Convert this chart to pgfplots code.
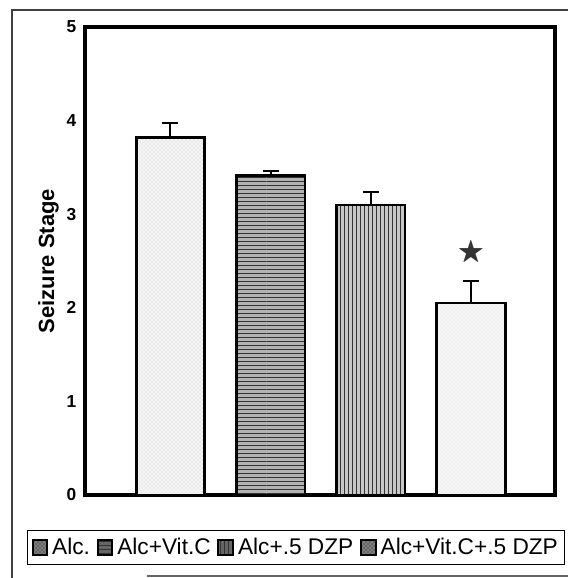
\documentclass[border=0pt]{standalone}
\usepackage{pgfplots}
\pgfplotsset{compat=1.18}
\usepackage{amssymb}
\usepackage{fontspec}
\setmainfont{Liberation Sans}
\usetikzlibrary{patterns,plotmarks}
\begin{document}
\begin{tikzpicture}
\useasboundingbox (0,0) rectangle (426pt,433.5pt);
% outer frame of the figure
\draw[black!75, line width=0.8pt] (9pt,0pt) -- (9pt,426pt) -- (426pt,426pt);
\draw[black!60, line width=0.8pt] (110pt,1.5pt) -- (426pt,1.5pt);
\begin{axis}[
  at={(63.75pt,62.25pt)}, anchor=south west,
  scale only axis, width=352.5pt, height=351pt,
  xmin=0.147, xmax=4.838, ymin=0, ymax=5,
  ytick={0,1,2,3,4,5}, xtick=\empty,
  major tick length=0pt,
  axis line style={line width=3pt},
  tick label style={font=\fontsize{13}{15}\selectfont\bfseries},
  yticklabel style={xshift=-3pt},
  /pgf/number format/assume math mode=true,
  ylabel={Seizure Stage},
  ylabel style={font=\fontsize{16.5}{19}\selectfont\bfseries, yshift=-1pt},
  ybar, bar width=0.684, bar shift=0pt,
  every axis plot/.append style={line width=2pt, draw=black},
  error bars/error bar style={line width=1.5pt, black},
  error bars/error mark options={rotate=90, mark size=6pt, line width=1.5pt, black},
  legend style={at={(0.449,-0.112)}, anchor=center, draw=black, line width=0.8pt,
    font=\fontsize{17}{20}\selectfont, legend columns=4,
    /tikz/every odd column/.append style={column sep=1pt},
    /tikz/every even column/.append style={column sep=3pt},
    inner xsep=3pt, inner ysep=4pt},
  legend image code/.code={\draw[#1, line width=1.5pt, fill=black!60] (0pt,-5.5pt) rectangle (11pt,5.5pt);},
]
\addplot[fill=black!4, postaction={pattern=crosshatch dots, pattern color=black!22},
  error bars/.cd, y dir=plus, y explicit]
  coordinates {(1,3.82) +- (0,0.15)};
\addlegendentry{Alc.}
\addplot[fill=black!30, postaction={pattern=horizontal lines, pattern color=black!80},
  error bars/.cd, y dir=plus, y explicit]
  coordinates {(2,3.41) +- (0,0.05)};
\addlegendentry{Alc+Vit.C}
\addplot[fill=black!22, postaction={pattern=vertical lines, pattern color=black!80},
  error bars/.cd, y dir=plus, y explicit]
  coordinates {(3,3.10) +- (0,0.14)};
\addlegendentry{Alc+.5 DZP}
\addplot[fill=black!3, postaction={pattern=crosshatch dots, pattern color=black!16},
  error bars/.cd, y dir=plus, y explicit]
  coordinates {(4,2.05) +- (0,0.24)};
\addlegendentry{Alc+Vit.C+.5 DZP}
\addplot[forget plot, only marks, mark=text, text mark={\textcolor{black!80}{\huge$\bigstar$}}]
  coordinates {(4,2.59)};
\end{axis}
\end{tikzpicture}
\end{document}
